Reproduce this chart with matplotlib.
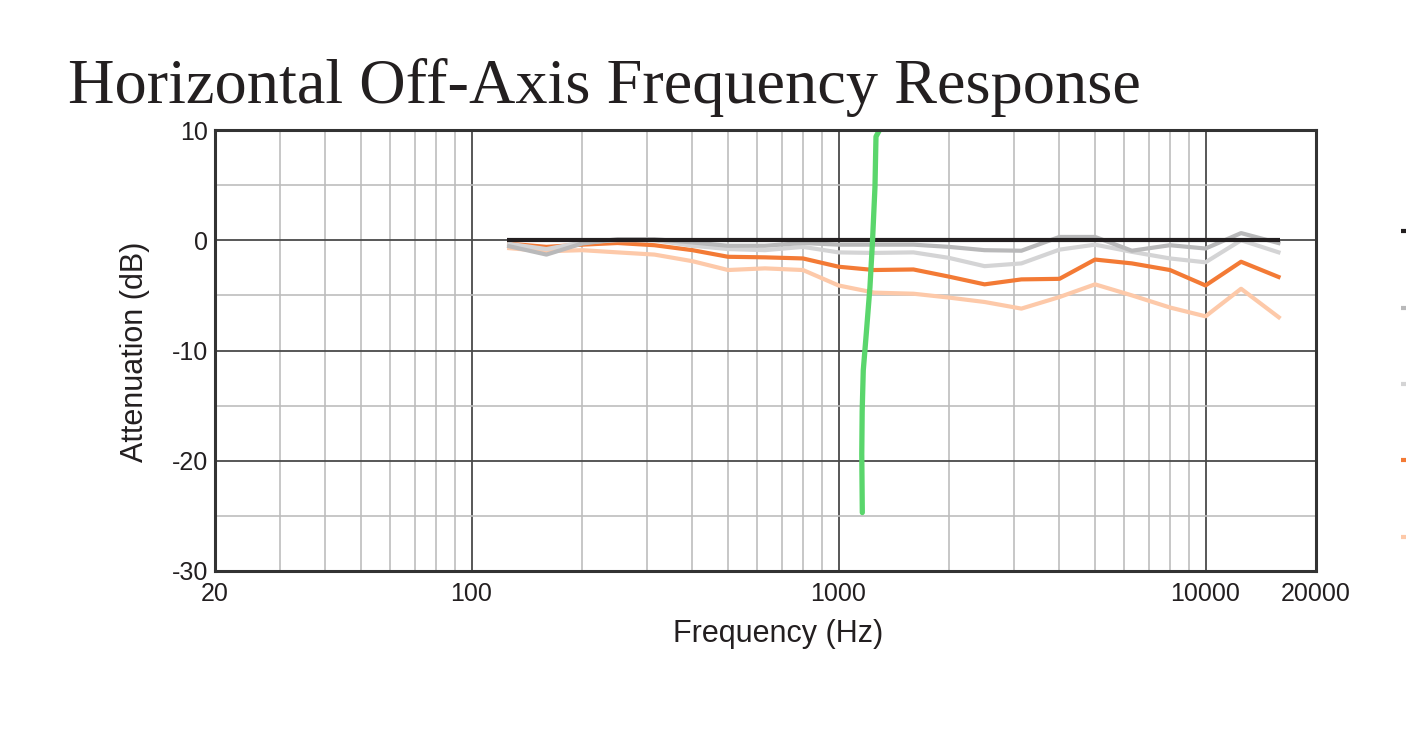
import numpy as np
import matplotlib
matplotlib.use("Agg")
import matplotlib.pyplot as plt
from matplotlib.ticker import FixedLocator, NullFormatter

plt.rcParams["axes.unicode_minus"] = False

# =========================
# Datos
# =========================

freq = [125, 160, 200, 250, 315, 400, 500, 630, 800, 1000, 1250,
        1600, 2000, 2500, 3150, 4000, 5000, 6300, 8000, 10000, 12500, 16000]

on_axis = [0.0] * len(freq)
deg15 = [-0.5, -1.3, -0.3, 0.1, 0.1, -0.2, -0.5, -0.5, -0.25, -0.4, -0.4,
         -0.4, -0.6, -0.9, -0.95, 0.3, 0.3, -0.95, -0.45, -0.75, 0.65, -0.3]
deg30 = [-0.3, -0.8, -0.2, 0.0, 0.0, -0.5, -0.8, -0.9, -0.6, -1.1, -1.15,
         -1.1, -1.6, -2.35, -2.1, -0.85, -0.4, -1.05, -1.65, -2.0, 0.0, -1.15]
deg45 = [-0.3, -0.6, -0.4, -0.25, -0.45, -0.9, -1.5, -1.55, -1.65, -2.4, -2.7,
         -2.65, -3.3, -4.0, -3.55, -3.5, -1.75, -2.1, -2.7, -4.1, -1.95, -3.4]
deg60 = [-0.7, -1.0, -0.9, -1.1, -1.3, -1.9, -2.7, -2.55, -2.7, -4.1, -4.75,
         -4.85, -5.2, -5.6, -6.2, -5.15, -4.0, -5.0, -6.1, -6.9, -4.4, -7.1]

series = [on_axis, deg15, deg30, deg45, deg60]
labels = ["0°", "15°", "30°", "45°", "60°"]
colors = ["#231f20", "#b9b9ba", "#d4d4d5", "#f37a35", "#fdc9a9"]

# trazo verde a mano
green_f = [1305, 1265, 1257, 1238, 1218, 1190, 1168, 1160, 1157, 1161]
green_db = [10.25, 9.4, 4.85, 0.0, -4.25, -8.5, -11.8, -15.5, -19.4, -24.7]

x_ticks = [20, 100, 1000, 10000, 20000]
x_minor = [30, 40, 50, 60, 70, 80, 90, 200, 300, 400, 500, 600, 700, 800, 900,
           2000, 3000, 4000, 5000, 6000, 7000, 8000, 9000]
y_ticks = [-30, -20, -10, 0, 10]
y_minor = [-25, -15, -5, 5]

txt = "#231f20"

# =========================
# Figura
# =========================

fig = plt.figure(figsize=(14.06, 7.34), dpi=100)
ax = fig.add_axes([215 / 1406, 1 - 571 / 734, 1101 / 1406, 441 / 734])

ax.set_xscale("log")
ax.set_xlim(20, 20000)
ax.set_ylim(-30, 10)

ax.xaxis.set_major_locator(FixedLocator(x_ticks))
ax.set_xticklabels([str(v) for v in x_ticks])
ax.xaxis.set_minor_locator(FixedLocator(x_minor))
ax.xaxis.set_minor_formatter(NullFormatter())
ax.yaxis.set_major_locator(FixedLocator(y_ticks))
ax.yaxis.set_minor_locator(FixedLocator(y_minor))

ax.grid(which="major", color="#4a4a4a", linewidth=1.3)
ax.grid(which="minor", color="#bdbdbd", linewidth=1.2)
ax.set_axisbelow(True)

ax.tick_params(which="both", length=0)
ax.tick_params(axis="x", pad=8, labelsize=18, labelcolor=txt)
ax.tick_params(axis="y", pad=5, labelsize=18, labelcolor=txt)
for lab in ax.get_xticklabels() + ax.get_yticklabels():
    lab.set_family("Liberation Sans")

for s in ax.spines.values():
    s.set_color("#333333")
    s.set_linewidth(2.2)

for vals, lab, c in zip(series[::-1], labels[::-1], colors[::-1]):
    ax.plot(freq, vals, color=c, linewidth=3.0, label=lab, solid_capstyle="butt")

ax.plot(green_f, green_db, color="#5ad66c", linewidth=3.8,
        solid_capstyle="round", solid_joinstyle="round")

# leyenda (cortada en el borde derecho, como en el original)
handles, labs = ax.get_legend_handles_labels()
fig.legend(handles[::-1], labs[::-1], loc="upper left",
           bbox_to_anchor=(1401 / 1406, 1 - 223 / 734), frameon=False,
           handlelength=0.6, handletextpad=0.5, borderpad=0, borderaxespad=0,
           labelspacing=2.95, fontsize=14)

# textos
fig.text(68 / 1406, 1 - 103 / 734, "Horizontal Off-Axis Frequency Response",
         family="Liberation Serif", fontsize=46.3, color=txt, va="baseline", ha="left")
fig.text(778 / 1406, 1 - 634 / 734, "Frequency (Hz)", family="Liberation Sans",
         fontsize=22, color=txt, ha="center", va="center")
fig.text(135 / 1406, 1 - 352 / 734, "Attenuation (dB)", family="Liberation Sans",
         fontsize=22, color=txt, ha="center", va="center", rotation=90)

fig.savefig("out.png", dpi=100)
